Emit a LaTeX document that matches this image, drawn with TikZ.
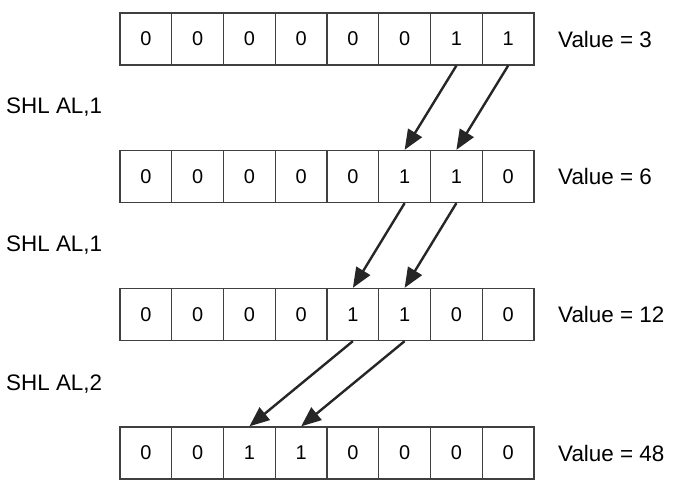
\documentclass[tikz,border=0pt]{standalone}
\usepackage{fontspec}
\setmainfont{Liberation Sans}
\usetikzlibrary{arrows.meta}
\begin{document}
\begin{tikzpicture}
    [x=1bp, y=-1bp,
    bit/.style={draw=black!75, line width=1.3bp, minimum width=51.75bp, minimum height=52bp, inner sep=0pt, font=\fontsize{20}{24}\selectfont},
    info/.style={right, inner sep=0pt, font=\fontsize{22.5}{27}\selectfont},
    move/.style={line width=2.4bp, draw=black!85, -{Triangle[length=20bp, width=16bp]}}]
    \useasboundingbox (0,0) rectangle (682,493);
    % \draw[help lines] (0,0) grid (682,493);
    \foreach \b [count=\i] in {0,0,0,0,0,0,1,1}
        \node[bit] (a\i) at (94.125+\i*51.75, 39) {\b};
    \foreach \b [count=\i] in {0,0,0,0,0,1,1,0}
        \node[bit] (b\i) at (94.125+\i*51.75, 176.5) {\b};
    \foreach \b [count=\i] in {0,0,0,0,1,1,0,0}
        \node[bit] (c\i) at (94.125+\i*51.75, 314.5) {\b};
    \foreach \b [count=\i] in {0,0,1,1,0,0,0,0}
        \node[bit] (d\i) at (94.125+\i*51.75, 453) {\b};
    %
    \node[info] (V1) at (558, 39) {Value = 3};
    \node[info] (V2) at (558, 176.5) {Value = 6};
    \node[info] (V3) at (558, 314.5) {Value = 12};
    \node[info] (V4) at (558, 453) {Value = 48};
    %
    \node[info] (S1) at (6, 107.5) {SHL AL,1};
    \node[info] (S2) at (6, 245.5) {SHL AL,1};
    \node[info] (S3) at (6, 384) {SHL AL,2};
    %
    \draw[move] (a7.south) -- (b6.north);
    \draw[move] (a8.south) -- (b7.north);
    \draw[move] (b6.south) -- (c5.north);
    \draw[move] (b7.south) -- (c6.north);
    \draw[move] (c5.south) -- (d3.north);
    \draw[move] (c6.south) -- (d4.north);
\end{tikzpicture}
\end{document}
